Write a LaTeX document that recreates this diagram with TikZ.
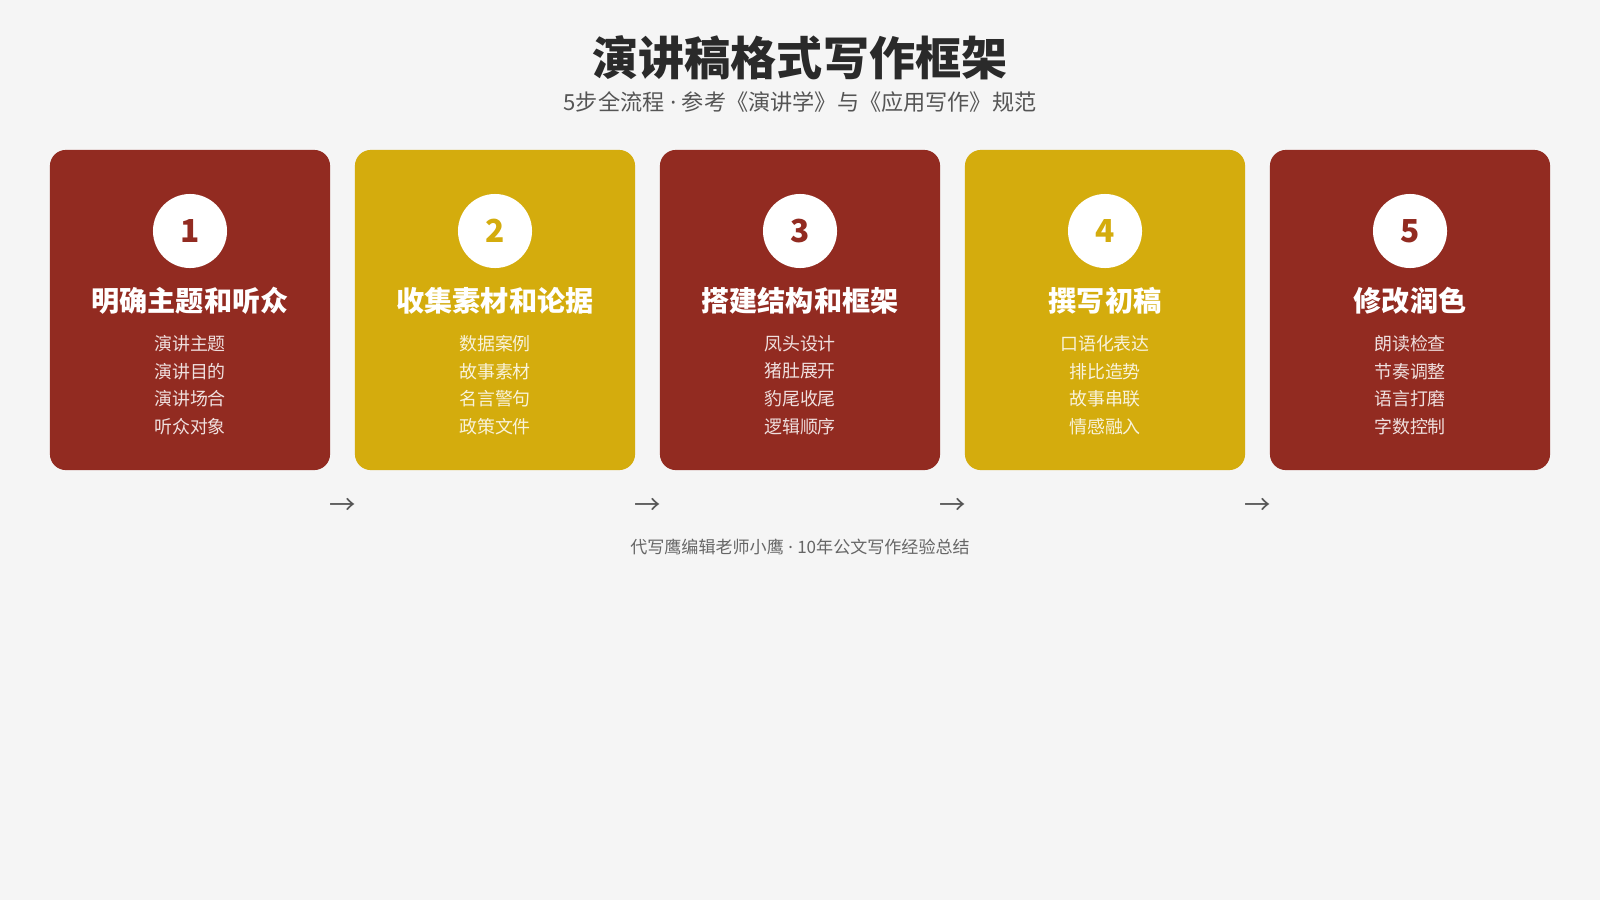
\documentclass[tikz,border=0pt]{standalone}
\usepackage{fontspec}
\setmainfont{Noto Sans CJK SC}
\newfontfamily\latin{Noto Sans}
\definecolor{bg}{HTML}{F5F5F5}
\definecolor{red}{HTML}{922B21}
\definecolor{gold}{HTML}{D4AC0D}
\definecolor{ink}{HTML}{2A2A2A}
\definecolor{grey}{HTML}{555555}
\definecolor{greyl}{HTML}{666666}
\newcommand{\dotsep}{{\latin\ ·\ }}
\begin{document}
\begin{tikzpicture}[x=0.01cm,y=-0.01cm,
  card/.style={minimum width=2.8cm,minimum height=3.2cm,rounded corners=0.16cm,inner sep=0pt},
  num/.style={circle,fill=white,minimum size=0.74cm,inner sep=0pt,font=\fontsize{9}{10}\selectfont\bfseries},
  head/.style={text=white,font=\fontsize{8}{9}\selectfont\bfseries},
  list/.style={align=center,font=\fontsize{5.1}{7.85}\selectfont},
  arr/.style={text=grey,font=\fontsize{7.5}{8}\selectfont}]
\fill[bg] (0,0) rectangle (1600,900);
\useasboundingbox (0,0) rectangle (1600,900);
\node[text=ink,font=\fontsize{13.1}{14}\selectfont\bfseries] (title) at (800,58) {演讲稿格式写作框架};
\node[text=grey,font=\fontsize{6.3}{7}\selectfont] (sub) at (800,102) {5步全流程\dotsep 参考《演讲学》与《应用写作》规范};
% cards
\node[card,fill=red] (card1) at (190,310) {};
\node[card,fill=gold] (card2) at (495,310) {};
\node[card,fill=red] (card3) at (800,310) {};
\node[card,fill=gold] (card4) at (1105,310) {};
\node[card,fill=red] (card5) at (1410,310) {};
\node[num,text=red] (num1) at (190,231) {1};
\node[num,text=gold] (num2) at (495,231) {2};
\node[num,text=red] (num3) at (800,231) {3};
\node[num,text=gold] (num4) at (1105,231) {4};
\node[num,text=red] (num5) at (1410,231) {5};
\node[head] (head1) at (190,301) {明确主题和听众};
\node[head] (head2) at (495,301) {收集素材和论据};
\node[head] (head3) at (800,301) {搭建结构和框架};
\node[head] (head4) at (1105,301) {撰写初稿};
\node[head] (head5) at (1410,301) {修改润色};
\node[list,text=white!85!red] (list1) at (190,385) {演讲主题\\演讲目的\\演讲场合\\听众对象};
\node[list,text=white!85!gold] (list2) at (495,385) {数据案例\\故事素材\\名言警句\\政策文件};
\node[list,text=white!85!red] (list3) at (800,385) {凤头设计\\猪肚展开\\豹尾收尾\\逻辑顺序};
\node[list,text=white!85!gold] (list4) at (1105,385) {口语化表达\\排比造势\\故事串联\\情感融入};
\node[list,text=white!85!red] (list5) at (1410,385) {朗读检查\\节奏调整\\语言打磨\\字数控制};
% arrows between steps
\node[arr] (arr1) at (342.5,506) {→};
\node[arr] (arr2) at (647.5,506) {→};
\node[arr] (arr3) at (952.5,506) {→};
\node[arr] (arr4) at (1257.5,506) {→};
\node[text=greyl,font=\fontsize{4.85}{6}\selectfont] (foot) at (800,547) {代写鹰编辑老师小鹰\dotsep 10年公文写作经验总结};
\end{tikzpicture}
\end{document}
